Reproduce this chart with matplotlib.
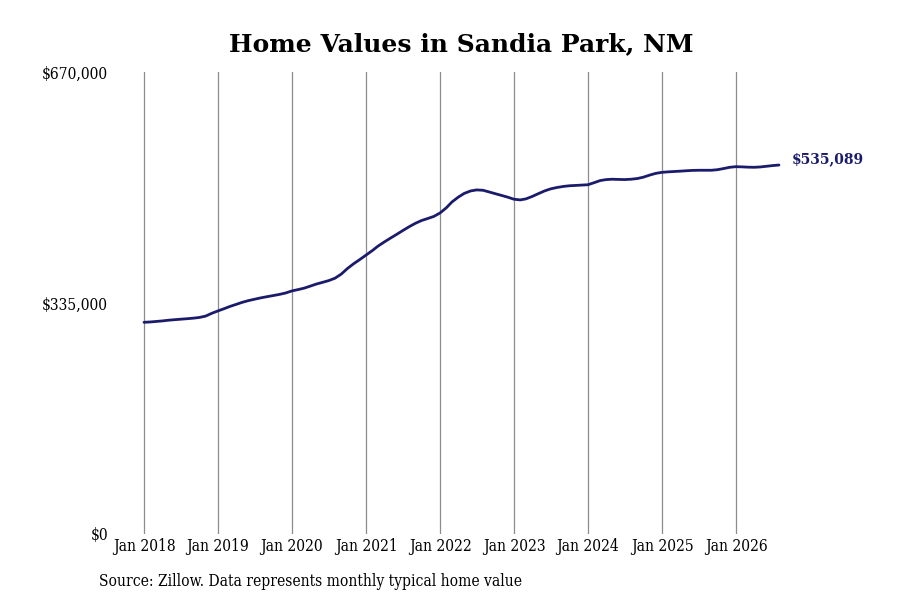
import matplotlib
matplotlib.use("Agg")
import matplotlib.pyplot as plt
import matplotlib.dates as mdates
import numpy as np
import datetime as dt

plt.rcParams['font.family'] = ['DejaVu Serif']

start_year = 2018
values = [
    # 2018
    307000, 307500, 308200, 309000, 310000, 310800, 311500, 312200, 313000, 314000, 316000, 320000,
    # 2019
    323500, 326800, 330000, 333000, 336000, 338500, 340500, 342500, 344200, 345800, 347500, 349500,
    # 2020
    352500, 354500, 356500, 359500, 362500, 365000, 367500, 371000, 377000, 385000, 392000, 398000,
    # 2021
    404500, 411000, 417500, 423500, 429000, 434500, 440000, 445500, 450500, 454500, 457500, 460500,
    # 2022
    465500, 473000, 481500, 488500, 494000, 497500, 499000, 498500, 496000, 493500, 491000, 488500,
    # 2023
    485500, 484500, 486000, 489500, 493500, 497500, 500500, 502500, 504000, 505000, 505500, 506000,
    # 2024
    506500, 509500, 512500, 514000, 514500, 514200, 514000, 514500, 515500, 517500, 520500, 523000,
    # 2025
    524500, 525200, 525700, 526200, 526800, 527300, 527500, 527500, 527500, 528300, 530000, 531800,
    # 2026
    532700, 532400, 532000, 531800, 532300, 533300, 534300, 535089,
]
dates = [dt.date(start_year + i // 12, i % 12 + 1, 1) for i in range(len(values))]
tick_years = list(range(2018, 2027))
tick_labels = [f"Jan {y}" for y in tick_years]
y_ticks = [0, 335000, 670000]
y_labels = ["$0", "$335,000", "$670,000"]
title = "Home Values in Sandia Park, NM"
source = "Source: Zillow. Data represents monthly typical home value"
end_label = "$535,089"

navy = '#1b1b6b'

fig = plt.figure(figsize=(9, 6), dpi=100)
ax = fig.add_axes([112/900, 1 - 534/600, (800-112)/900, (534-72)/600])

x = mdates.date2num(dates)
ax.plot(x, values, color=navy, lw=2.0, solid_capstyle='round')

x0 = mdates.date2num(dt.date(2018, 1, 1))
yr = 365.25
ax.set_xlim(x0 - 32/74*yr, x0 + (800-144)/74*yr)
ax.set_ylim(0, 670000)

ax.set_xticks([mdates.date2num(dt.date(y, 1, 1)) for y in tick_years])
ax.set_xticklabels(tick_labels, fontsize=11.2, fontstretch='condensed')
ax.set_yticks(y_ticks)
ax.set_yticklabels(y_labels, fontsize=11.2, fontstretch='condensed')
ax.tick_params(axis='x', length=0, pad=3)
ax.tick_params(axis='y', length=0, pad=2.8)
ax.grid(axis='x', color='#8c8c8c', lw=0.9)
ax.grid(axis='y', visible=False)
for s in ax.spines.values():
    s.set_visible(False)

ax.annotate(end_label, xy=(x[-1], values[-1]), xytext=(9.5, 4.5), textcoords='offset points',
            fontsize=10, fontweight='bold', color=navy, va='center', ha='left')

fig.text(461/900, 1 - 44/600, title, ha='center', va='center', fontsize=18, fontweight='bold')
fig.text(99/900, 1 - 581/600, source, ha='left', va='center', fontsize=11.2, fontstretch='condensed')

fig.savefig('out.png', dpi=100, facecolor='white')
